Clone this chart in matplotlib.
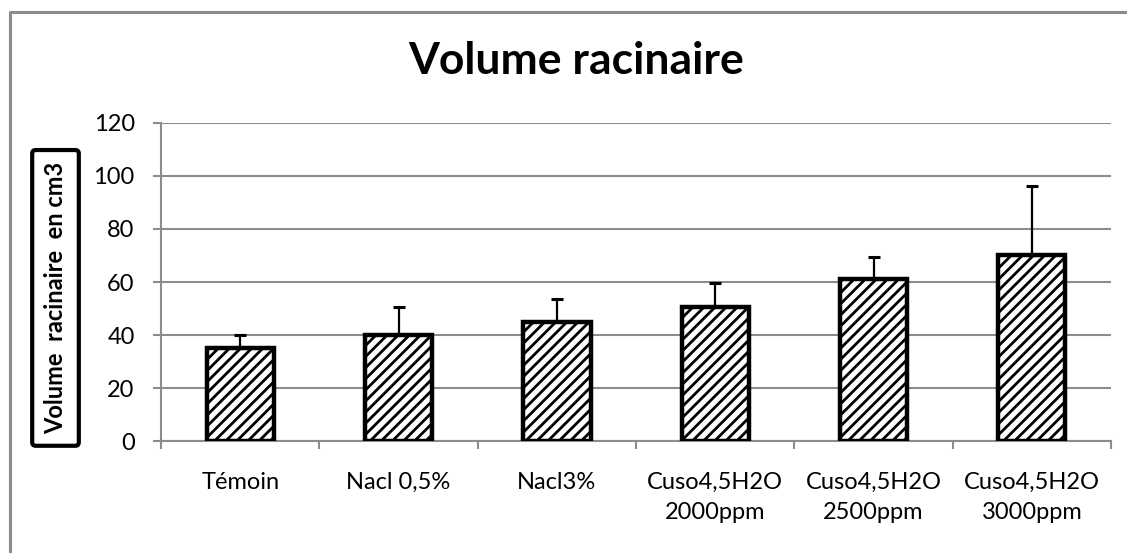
import matplotlib.pyplot as plt
from matplotlib.lines import Line2D
import numpy as np

plt.rcParams['font.family'] = ['Lato', 'DejaVu Sans']
plt.rcParams['hatch.linewidth'] = 2.0

# data
categories = ['Témoin', 'Nacl 0,5%', 'Nacl3%', 'Cuso4,5H2O\n2000ppm',
              'Cuso4,5H2O\n2500ppm', 'Cuso4,5H2O\n3000ppm']
volumes = [35, 40, 45, 50.5, 61, 70]
errors = [5, 10.5, 8.7, 9, 8.5, 26.3]

grey = '#8c8c8c'

fig = plt.figure(figsize=(11.27, 5.53), dpi=100)
ax = fig.add_axes([0.1429, 0.2025, 0.8429, 0.5751])

x = np.arange(len(categories))
ax.bar(x, volumes, width=0.425, color='white', edgecolor='black',
       linewidth=3.2, hatch='///', zorder=3)
ax.errorbar(x, volumes, yerr=[np.zeros(len(errors)), errors], fmt='none',
            ecolor='black', elinewidth=1.6, capsize=4.5, capthick=2.2, zorder=4)

ax.set_xlim(-0.5, len(categories) - 0.5)
ax.set_ylim(0, 120)
ax.set_yticks(np.arange(0, 121, 20))
ax.yaxis.grid(True, color=grey, linewidth=1.5, zorder=0)
ax.set_axisbelow(True)

# category labels in the middle, tick marks at the boundaries
ax.set_xticks(x)
ax.set_xticklabels(categories, fontsize=17, linespacing=1.55, va='top')
ax.set_xticks(np.arange(-0.5, len(categories), 1), minor=True)
ax.tick_params(axis='x', which='major', length=0, pad=22)
ax.tick_params(axis='x', which='minor', length=6, width=1.5, color=grey, direction='out')
ax.tick_params(axis='y', length=6, width=1.5, color=grey, labelsize=17, pad=13)

for s in ['top', 'right']:
    ax.spines[s].set_visible(False)
for s in ['left', 'bottom']:
    ax.spines[s].set_color(grey)
    ax.spines[s].set_linewidth(1.5)

ax.set_ylabel('Volume  racinaire  en cm3', fontsize=17, fontweight='bold',
              bbox=dict(boxstyle='round,pad=0.5,rounding_size=0.15',
                        facecolor='white', edgecolor='black', linewidth=3))
ax.yaxis.set_label_coords(-0.099, 0.45)

fig.text(0.511, 0.89, 'Volume racinaire', fontsize=32, fontweight='bold',
         ha='center', va='center')

# outer chart frame (cut off on the right and bottom)
fig.add_artist(Line2D([0.0089, 0.0089, 1.01], [-0.01, 0.979, 0.979],
                      color=grey, linewidth=2.2, transform=fig.transFigure))

fig.savefig('out.png', dpi=100)
